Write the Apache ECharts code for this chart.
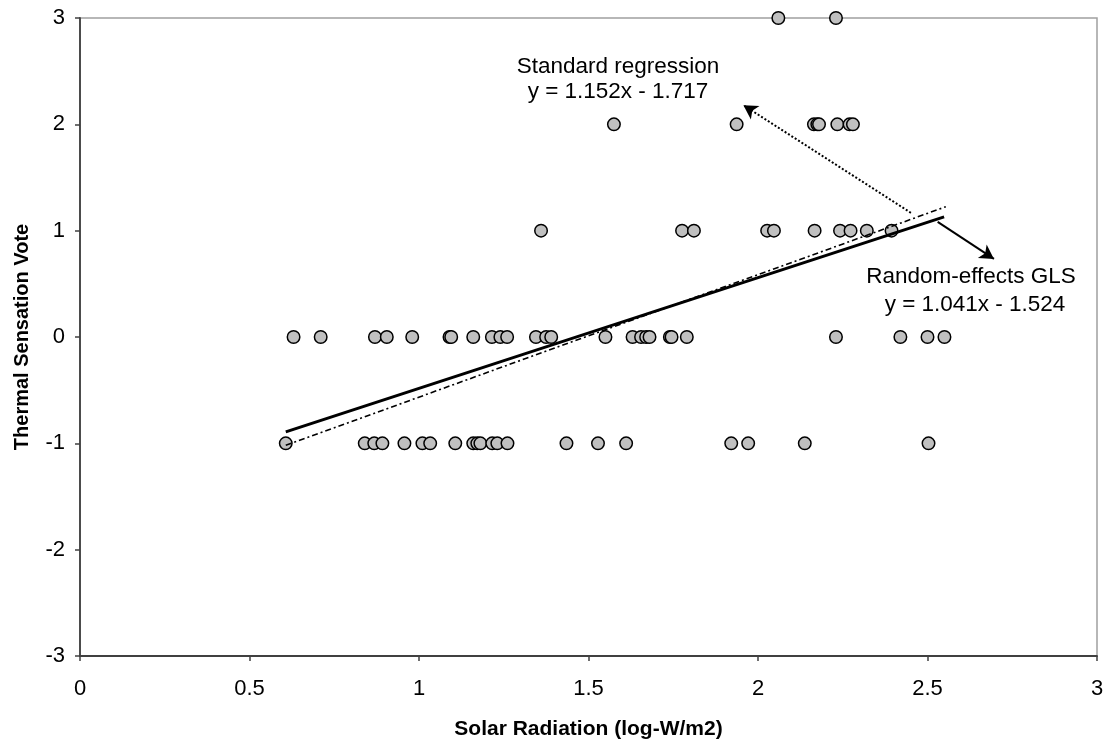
<!DOCTYPE html>
<html>
<head>
<meta charset="utf-8">
<script src="https://cdn.jsdelivr.net/npm/echarts@6/dist/echarts.min.js"></script>
<style>html,body{margin:0;padding:0;background:#fff}#c{width:1109px;height:745px}</style>
</head>
<body>
<div id="c"></div>
<script>
// Solar radiation (log-W/m2) of each observation, grouped by thermal sensation vote
var xVoteMinus1 = [0.607, 0.84, 0.868, 0.892, 0.957, 1.01, 1.033, 1.107, 1.16, 1.172, 1.181, 1.216, 1.231, 1.261, 1.435, 1.528, 1.611, 1.921, 1.971, 2.138, 2.503];
var xVote0 = [0.63, 0.71, 0.87, 0.905, 0.98, 1.09, 1.095, 1.16, 1.215, 1.24, 1.26, 1.345, 1.375, 1.39, 1.55, 1.63, 1.655, 1.67, 1.68, 1.74, 1.745, 1.79, 2.23, 2.42, 2.50, 2.55];
var xVote1 = [1.36, 1.776, 1.811, 2.027, 2.047, 2.167, 2.242, 2.273, 2.321, 2.394];
var xVote2 = [1.575, 1.937, 2.165, 2.175, 2.18, 2.234, 2.27, 2.28];
var xVote3 = [2.06, 2.23];
var voteLevels = [-1, 0, 1, 2, 3];

// Fitted lines (end points)
var olsLine = [[0.607, -1.018], [2.554, 1.225]];   // Standard regression y = 1.152x - 1.717
var glsLine = [[0.607, -0.892], [2.549, 1.130]];   // Random-effects GLS y = 1.041x - 1.524

// Annotation arrows (data coordinates)
var olsArrow = [[2.451, 1.168], [1.957, 2.180]];
var glsArrow = [[2.530, 1.083], [2.696, 0.734]];

var xTicks = {min: 0, max: 3, interval: 0.5};
var yTicks = {min: -3, max: 3, interval: 1};

var groups = [xVoteMinus1, xVote0, xVote1, xVote2, xVote3];
var points = [];
groups.forEach(function (arr, i) {
  arr.forEach(function (x) { points.push([x, voteLevels[i]]); });
});

var FONT = "'Liberation Sans', Arial, Helvetica, sans-serif";
var chart = echarts.init(document.getElementById('c'), null, {renderer: 'canvas'});
chart.setOption({
  animation: false,
  backgroundColor: '#fff',
  grid: {left: 80, right: 12, top: 18, bottom: 89, containLabel: false, outerBoundsMode: 'none',
         show: true, borderColor: '#a0a0a0', borderWidth: 1.5, backgroundColor: 'transparent'},
  xAxis: {
    type: 'value', min: xTicks.min, max: xTicks.max, interval: xTicks.interval,
    name: 'Solar Radiation (log-W/m2)', nameLocation: 'middle', nameGap: 63,
    nameTextStyle: {fontFamily: FONT, fontSize: 21, fontWeight: 'bold', color: '#000'},
    axisLine: {show: true, onZero: false, lineStyle: {color: '#404040', width: 1.8}},
    axisTick: {show: true, inside: false, length: 5, lineStyle: {color: '#404040', width: 1.5}},
    axisLabel: {fontFamily: FONT, fontSize: 22, color: '#000', margin: 22},
    splitLine: {show: false}
  },
  yAxis: {
    type: 'value', min: yTicks.min, max: yTicks.max, interval: yTicks.interval,
    name: 'Thermal Sensation Vote', nameLocation: 'middle', nameGap: 48, nameRotate: 90,
    nameTextStyle: {fontFamily: FONT, fontSize: 20, fontWeight: 'bold', color: '#000'},
    axisLine: {show: true, onZero: false, lineStyle: {color: '#404040', width: 1.8}},
    axisTick: {show: true, inside: false, length: 5, lineStyle: {color: '#404040', width: 1.5}},
    axisLabel: {fontFamily: FONT, fontSize: 22, color: '#000', margin: 15},
    splitLine: {show: false}
  },
  series: [
    {
      type: 'scatter', data: points, symbol: 'circle', symbolSize: 12.5, z: 2,
      itemStyle: {color: '#c0c0c0', borderColor: '#000', borderWidth: 1.5, opacity: 1}
    },
    {
      type: 'line', data: olsLine, showSymbol: false, z: 3,
      lineStyle: {color: '#000', width: 1.6, type: [6, 3, 2, 3]}
    },
    {
      type: 'line', data: glsLine, showSymbol: false, z: 4,
      lineStyle: {color: '#000', width: 3}
    },
    {
      type: 'line', data: [], z: 5,
      markLine: {
        silent: true, symbol: ['none', 'arrow'], symbolSize: [12, 14],
        label: {show: false},
        data: [
          [{coord: olsArrow[0], lineStyle: {type: [2, 2], width: 2, color: '#000'}}, {coord: olsArrow[1]}],
          [{coord: glsArrow[0], lineStyle: {type: 'solid', width: 2, color: '#000'}}, {coord: glsArrow[1]}]
        ]
      }
    }
  ],
  graphic: [
    {type: 'text', position: [618, 67], style: {text: 'Standard regression', font: '22.5px ' + FONT, fill: '#000', textAlign: 'center', textVerticalAlign: 'middle'}},
    {type: 'text', position: [618, 92], style: {text: 'y = 1.152x - 1.717', font: '22.5px ' + FONT, fill: '#000', textAlign: 'center', textVerticalAlign: 'middle'}},
    {type: 'text', position: [971, 277], style: {text: 'Random-effects GLS', font: '22.5px ' + FONT, fill: '#000', textAlign: 'center', textVerticalAlign: 'middle'}},
    {type: 'text', position: [975, 305], style: {text: 'y = 1.041x - 1.524', font: '22.5px ' + FONT, fill: '#000', textAlign: 'center', textVerticalAlign: 'middle'}}
  ]
});
</script>
</body>
</html>
